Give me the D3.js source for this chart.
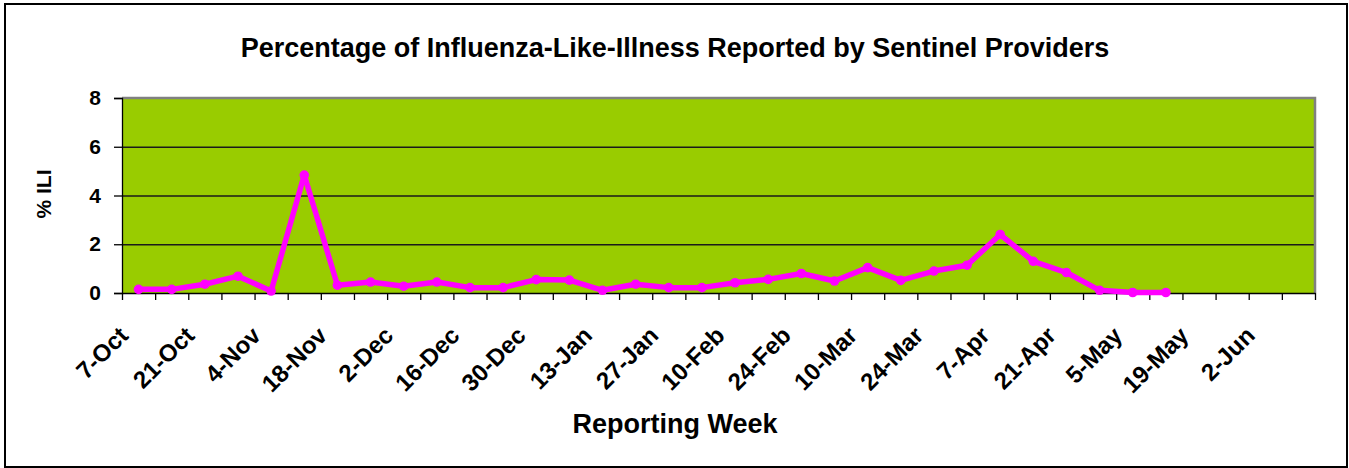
<!DOCTYPE html>
<html>
<head>
<meta charset="utf-8">
<script src="https://cdn.jsdelivr.net/npm/d3@7"></script>
<style>
  body { margin: 0; background: #fff; }
  text { font-family: "Liberation Sans", Arial, sans-serif; font-weight: bold; fill: #000; }
</style>
</head>
<body>
<div class="chart"></div>
<script>
var svgWidth = 1349;
var svgHeight = 468;

var margin = { top: 98, right: 34, bottom: 175, left: 122 };
var width = svgWidth - margin.left - margin.right;
var height = svgHeight - margin.top - margin.bottom;

// weekly reporting dates (x categories)
var weeks = ["7-Oct", "14-Oct", "21-Oct", "28-Oct", "4-Nov", "11-Nov", "18-Nov", "25-Nov",
  "2-Dec", "9-Dec", "16-Dec", "23-Dec", "30-Dec", "6-Jan", "13-Jan", "20-Jan", "27-Jan",
  "3-Feb", "10-Feb", "17-Feb", "24-Feb", "3-Mar", "10-Mar", "17-Mar", "24-Mar", "31-Mar",
  "7-Apr", "14-Apr", "21-Apr", "28-Apr", "5-May", "12-May", "19-May", "26-May", "2-Jun", "9-Jun"];

// % ILI per week (reported weeks only)
var iliValues = [0.15, 0.15, 0.36, 0.69, 0.08, 4.84, 0.32, 0.45, 0.28, 0.45, 0.22, 0.22,
  0.55, 0.53, 0.11, 0.36, 0.22, 0.22, 0.42, 0.56, 0.80, 0.49, 1.04, 0.52, 0.90, 1.14,
  2.40, 1.30, 0.84, 0.11, 0.02, 0.02];

var yTicks = [0, 2, 4, 6, 8];

var svg = d3.select(".chart")
  .append("svg")
  .attr("width", svgWidth)
  .attr("height", svgHeight);

// outer chart border
svg.append("rect")
  .attr("x", 5).attr("y", 4)
  .attr("width", 1342).attr("height", 463)
  .attr("fill", "none")
  .attr("stroke", "#000")
  .attr("stroke-width", 2);

var chartGroup = svg.append("g")
  .attr("transform", `translate(${margin.left}, ${margin.top})`);

var xScale = d3.scaleBand()
  .domain(weeks)
  .range([0, width]);

var xEdge = d3.scaleLinear()
  .domain([0, weeks.length])
  .range([0, width]);

var yScale = d3.scaleLinear()
  .domain([0, 8])
  .range([height, 0]);

// plot area
chartGroup.append("rect")
  .attr("width", width)
  .attr("height", height)
  .attr("fill", "#99CC00");

// gridlines
chartGroup.append("g")
  .call(d3.axisLeft(yScale).tickValues(yTicks.slice(1, 4)).tickSize(-width).tickFormat(""))
  .call(g => g.select(".domain").remove())
  .selectAll("line")
  .attr("stroke", "#1a1a1a")
  .attr("stroke-width", 1.3);

// plot border top/right
chartGroup.append("path")
  .attr("d", `M0,0H${width}V${height}`)
  .attr("fill", "none")
  .attr("stroke", "#808080")
  .attr("stroke-width", 2.5);

// y axis
var leftAxis = d3.axisLeft(yScale).tickValues(yTicks).tickSize(8).tickPadding(13);
chartGroup.append("g")
  .call(leftAxis)
  .call(g => g.selectAll("line, path").attr("stroke", "#000").attr("stroke-width", 1.3))
  .call(g => g.selectAll("text").style("font-size", "21px"));

// x axis tick marks at category edges
chartGroup.append("g")
  .attr("transform", `translate(0, ${height})`)
  .call(d3.axisBottom(xEdge).tickValues(d3.range(weeks.length + 1)).tickSize(7).tickSizeOuter(0).tickFormat(""))
  .call(g => g.selectAll("line, path").attr("stroke", "#000").attr("stroke-width", 1.3));

// x labels every other week
chartGroup.append("g")
  .attr("transform", `translate(0, ${height})`)
  .call(d3.axisBottom(xScale).tickSize(0).tickFormat((d, i) => i % 2 === 0 ? d : ""))
  .call(g => g.select(".domain").remove())
  .selectAll("text")
  .attr("x", null).attr("y", null).attr("dy", null)
  .attr("transform", "translate(-9, 44) rotate(-45)")
  .attr("text-anchor", "end")
  .style("font-size", "24px");

// ILI line
var line = d3.line()
  .x((d, i) => xScale(weeks[i]) + xScale.bandwidth() / 2)
  .y(d => yScale(d));

chartGroup.append("path")
  .datum(iliValues)
  .attr("d", line)
  .attr("fill", "none")
  .attr("stroke", "#FF00FF")
  .attr("stroke-width", 5.5)
  .attr("stroke-linejoin", "round");

chartGroup.selectAll(".dots")
  .data(iliValues)
  .enter()
  .append("circle")
  .attr("class", "dots")
  .attr("cx", (d, i) => xScale(weeks[i]) + xScale.bandwidth() / 2)
  .attr("cy", d => yScale(d))
  .attr("r", 4.8)
  .attr("fill", "#FF00FF");

// titles
svg.append("text")
  .attr("x", 675).attr("y", 57)
  .attr("text-anchor", "middle")
  .style("font-size", "27px")
  .text("Percentage of Influenza-Like-Illness Reported by Sentinel Providers");

svg.append("text")
  .attr("x", 675).attr("y", 433)
  .attr("text-anchor", "middle")
  .style("font-size", "27px")
  .text("Reporting Week");

svg.append("text")
  .attr("transform", "translate(51, 194) rotate(-90)")
  .attr("text-anchor", "middle")
  .style("font-size", "21px")
  .text("% ILI");
</script>
</body>
</html>
